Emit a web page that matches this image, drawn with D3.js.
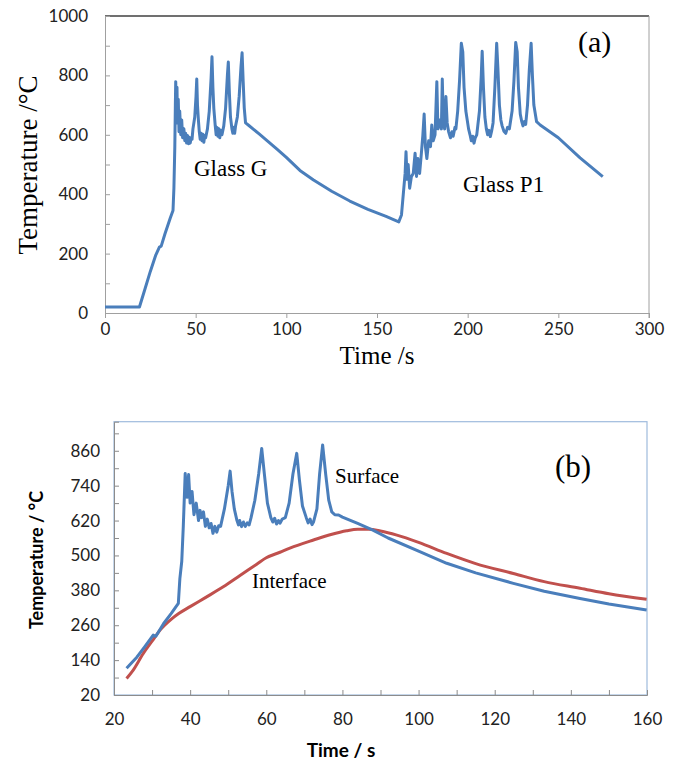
<!DOCTYPE html>
<html><head><meta charset="utf-8">
<script src="https://cdn.jsdelivr.net/npm/d3@7"></script>
<style>body{margin:0;background:#fff}</style>
</head><body>
<svg id="c" width="680" height="767"></svg>
<script>
// ---------- Data: panel (a) ----------
const topXTicks = [0, 50, 100, 150, 200, 250, 300];
const topYTicks = [0, 200, 400, 600, 800, 1000];
const topSeries = [[0,20],[19,20],[22,80],[25,140],[28,195],[30,222],[31,225],[33,265],[36,320],[37.5,345],[38,420],[38.5,560],[38.8,700],[39,779],[39.4,660],[39.7,760],[40,640],[40.4,720],[40.8,610],[41.2,680],[41.8,600],[42.3,650],[42.8,590],[43.5,620],[44,580],[44.5,605],[45,572],[45.5,598],[46,570],[46.5,592],[47,572],[47.5,590],[48,585],[48.5,620],[49.5,660],[50.2,730],[50.6,788],[51,700],[51.5,650],[52,610],[52.5,585],[53,605],[53.5,580],[54,602],[54.5,575],[55,598],[55.5,590],[56.5,620],[57.5,680],[58.5,790],[59,863],[59.5,760],[60,690],[60.8,630],[61.3,600],[61.8,625],[62.3,595],[62.8,620],[63.3,590],[63.8,615],[64.5,600],[65.5,630],[66.5,690],[67.5,800],[68,845],[68.6,740],[69.2,660],[70,620],[70.5,605],[71,625],[71.5,605],[72,630],[73,660],[74,730],[75,830],[75.6,876],[76.2,780],[76.8,690],[77.5,640],[79,633],[85,603],[90,577],[95,551],[100,524],[107.5,480],[115,448],[125,410],[135,377],[145,349],[155,325],[162,307],[163.5,330],[164.5,400],[165.5,470],[166,543],[166.6,450],[167.2,500],[168,420],[169,460],[170,470],[171,538],[171.8,460],[172.5,520],[173.5,470],[174.5,540],[175.3,600],[176,670],[176.7,560],[177.5,520],[178.5,580],[179.5,560],[180.2,633],[181,580],[182,600],[183,779],[183.6,620],[184.5,650],[185.5,620],[186,788],[186.6,640],[187.3,620],[188,729],[188.7,640],[189.5,610],[190.5,590],[191.3,610],[192,595],[193,625],[193.5,620],[194.5,680],[195.5,780],[196.5,908],[197.3,880],[198,760],[199,680],[200.5,620],[201.3,600],[202,580],[202.8,595],[203.5,572],[204.2,590],[205,600],[206.5,680],[207.5,800],[208,881],[208.7,760],[209.5,660],[210.3,620],[211,600],[211.8,615],[212.5,594],[213.2,612],[214,640],[215,760],[216,908],[216.7,820],[217.5,700],[218.3,650],[219,630],[220,612],[221,605],[222,625],[223,620],[224.5,680],[225.5,780],[226.5,911],[227.3,880],[228,760],[229,670],[229.8,645],[230.5,630],[231.3,645],[232,635],[233,700],[234,820],[235,908],[235.7,800],[236.5,700],[238,644],[240,633],[250,590],[262,522],[274.5,459]];

// ---------- Data: panel (b) ----------
const botXTicks = [20, 40, 60, 80, 100, 120, 140, 160];
const botYTicks = [20, 140, 260, 380, 500, 620, 740, 860];
const surface = [[23.3,112],[26,150],[28,185],[30.3,226],[31,222],[33,265],[35,300],[36.9,335],[37.3,420],[37.8,480],[38.2,600],[38.7,782],[39.2,700],[39.6,778],[40,680],[40.5,720],[41,640],[41.6,680],[42.2,620],[42.6,655],[43,630],[43.5,650],[44,600],[44.5,625],[45,595],[45.5,610],[46,576],[46.5,600],[47,580],[47.5,602],[48,600],[49,660],[50,740],[50.5,790],[51,720],[51.6,660],[52.3,620],[52.7,605],[53,620],[53.5,599],[54,615],[54.5,600],[55,612],[55.5,605],[56,630],[57,690],[58,780],[58.8,868],[59.5,780],[60.3,680],[61.2,630],[61.7,615],[62.2,628],[62.7,608],[63.2,620],[63.6,611],[64.2,625],[65,630],[66,680],[67,780],[68,851],[68.7,760],[69.5,670],[70.5,630],[71,612],[71.5,625],[72,606],[72.4,615],[73.3,660],[74,780],[74.8,880],[75.6,780],[76.4,690],[77.2,650],[78,640],[79,639],[80,632],[84,610],[88,587],[92,560],[100,515],[107.4,473],[115,440],[124.9,404],[133,377],[142.4,352],[150,333],[159.9,312]];
const interfaceT = [[23.3,77],[25,105],[27.7,163],[30,205],[32.1,243],[35,280],[37,300],[40,324],[44,355],[48.7,392],[53,430],[57.5,470],[60,492],[63.6,511],[66.2,525],[72.4,553],[77,572],[81.1,585],[84,590],[87,590],[90,584],[94.3,570],[100,545],[107.4,507],[115,472],[124.9,438],[133,410],[142.4,387],[150,368],[159.9,349]];

const svg = d3.select("#c");
const blue = "#4a7ebb", red = "#c0504d";
const sans = "Lato, 'Open Sans', sans-serif", serif = "'Liberation Serif', serif";

// ---------- Panel (a) ----------
{
  const x = d3.scaleLinear().domain([0, 300]).range([105, 649]);
  const y = d3.scaleLinear().domain([0, 1000]).range([313, 16]);
  const g = svg.append("g");
  g.append("line").attr("x1", 105).attr("x2", 649).attr("y1", y(1000)).attr("y2", y(1000)).attr("stroke", "#404040").attr("stroke-width", 1.5);
  g.append("line").attr("x1", 649).attr("x2", 649).attr("y1", y(1000)).attr("y2", y(0) + 5).attr("stroke", "#a0a0a0");
  const xa = g.append("g").attr("transform", `translate(0,${y(0)})`)
    .call(d3.axisBottom(x).tickValues(topXTicks).tickSize(5).tickPadding(5));
  const ya = g.append("g").attr("transform", `translate(${x(0)},0)`)
    .call(d3.axisLeft(y).ticks(10).tickSize(-5).tickPadding(17).tickFormat(d => topYTicks.includes(d) ? d : ""));
  [xa, ya].forEach(a => {
    a.selectAll("path,line").attr("stroke", "#a0a0a0");
    a.selectAll("text").attr("font-family", sans).attr("font-size", 17).attr("fill", "#222");
  });
  g.append("path").datum(topSeries).attr("fill", "none").attr("stroke", blue).attr("stroke-width", 3)
    .attr("stroke-linejoin", "round").attr("d", d3.line().x(d => x(d[0])).y(d => y(d[1])));
  g.append("text").attr("x", 377).attr("y", 364).attr("text-anchor", "middle").attr("font-family", serif).attr("font-size", 25).text("Time /s");
  g.append("text").attr("transform", "translate(37,165) rotate(-90)").attr("text-anchor", "middle").attr("font-family", serif).attr("font-size", 27).text("Temperature /°C");
  g.append("text").attr("x", 194).attr("y", 176).attr("font-family", serif).attr("font-size", 23).text("Glass G");
  g.append("text").attr("x", 463).attr("y", 192).attr("font-family", serif).attr("font-size", 23).text("Glass P1");
  g.append("text").attr("x", 578).attr("y", 52).attr("font-family", serif).attr("font-size", 30).text("(a)");
}

// ---------- Panel (b) ----------
{
  const x = d3.scaleLinear().domain([20, 160]).range([114, 647]);
  const y = d3.scaleLinear().domain([20, 960]).range([695, 421.7]);
  const g = svg.append("g");
  g.append("rect").attr("x", 114).attr("y", y(960)).attr("width", 647 - 114).attr("height", y(20) - y(960))
    .attr("fill", "none").attr("stroke", "#9fbbdd").attr("stroke-width", 1.2);
  const xa = g.append("g").attr("transform", `translate(0,${y(20)})`)
    .call(d3.axisBottom(x).tickValues(d3.range(20, 161, 10)).tickSize(-5).tickPadding(18).tickFormat(d => botXTicks.includes(d) ? d : ""));
  const ya = g.append("g").attr("transform", `translate(${x(20)},0)`)
    .call(d3.axisLeft(y).tickValues(d3.range(20, 961, 60)).tickSize(-5).tickPadding(14).tickFormat(d => botYTicks.includes(d) ? d : ""));
  [xa, ya].forEach(a => {
    a.selectAll("path,line").attr("stroke", "#8c8c8c");
    a.selectAll("text").attr("font-family", sans).attr("font-size", 17).attr("fill", "#222");
  });
  const line = d3.line().x(d => x(d[0])).y(d => y(d[1]));
  g.append("path").datum(interfaceT).attr("fill", "none").attr("stroke", red).attr("stroke-width", 3).attr("d", line.curve(d3.curveMonotoneX));
  g.append("path").datum(surface).attr("fill", "none").attr("stroke", blue).attr("stroke-width", 3).attr("stroke-linejoin", "round").attr("d", d3.line().x(d => x(d[0])).y(d => y(d[1])));
  g.append("text").attr("x", 341).attr("y", 757).attr("text-anchor", "middle").attr("font-family", sans).attr("font-weight", "bold").attr("font-size", 19).text("Time / s");
  g.append("text").attr("transform", "translate(43,560) rotate(-90)").attr("text-anchor", "middle").attr("font-family", sans).attr("font-weight", "bold").attr("font-size", 18).text("Temperature / °C");
  g.append("text").attr("x", 335).attr("y", 483).attr("font-family", serif).attr("font-size", 21).text("Surface");
  g.append("text").attr("x", 252).attr("y", 588).attr("font-family", serif).attr("font-size", 21).text("Interface");
  g.append("text").attr("x", 555).attr("y", 477).attr("font-family", serif).attr("font-size", 31).text("(b)");
}
</script>
</body></html>
